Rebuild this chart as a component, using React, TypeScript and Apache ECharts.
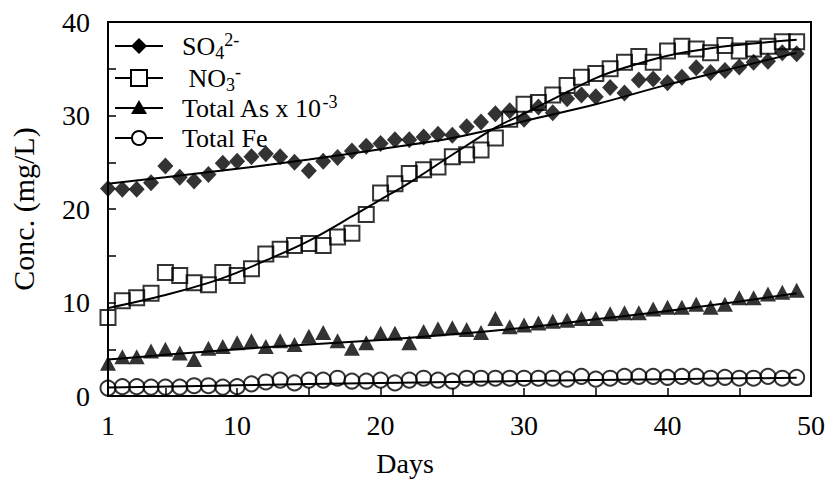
import React, { useEffect, useRef } from "react";
import * as echarts from "echarts";

const days = [1,2,3,4,5,6,7,8,9,10,11,12,13,14,15,16,17,18,19,20,21,22,23,24,25,26,27,28,29,30,31,32,33,34,35,36,37,38,39,40,41,42,43,44,45,46,47,48,49];

const so4 = [22.2,22.1,22.1,22.8,24.6,23.4,23.0,23.7,24.9,25.1,25.6,25.9,25.6,25.0,24.1,25.1,25.5,26.2,26.7,27.0,27.4,27.4,27.7,28.0,27.9,28.8,29.3,30.2,30.5,29.6,30.9,30.3,31.8,32.2,32.0,33.0,32.4,33.8,33.9,33.5,34.1,35.1,34.6,34.8,35.2,35.7,35.8,36.7,36.6];
const no3 = [8.4,10.2,10.5,11.0,13.2,12.9,12.1,11.9,13.2,12.9,13.6,15.2,15.7,16.1,16.3,16.1,17.0,17.4,19.4,21.7,22.7,23.8,24.2,24.5,25.6,25.8,26.3,27.6,29.6,31.2,31.4,32.2,33.2,34.1,34.5,35.0,35.7,36.3,35.7,36.9,37.4,37.1,36.7,37.5,36.9,37.1,37.4,37.9,37.9];
const asTot = [3.5,4.2,4.2,4.8,5.0,4.6,3.9,5.1,5.3,5.7,5.9,5.3,5.9,5.5,6.4,6.8,5.9,5.1,5.7,6.7,6.7,5.7,6.9,7.2,7.3,7.1,6.8,8.3,7.4,7.6,7.8,8.0,8.1,8.3,8.3,8.8,8.9,8.9,9.3,9.5,9.5,9.8,9.5,9.8,10.5,10.5,10.9,11.1,11.3];
const fe = [0.85,1.0,1.0,0.95,0.95,0.95,1.1,1.1,0.95,1.0,1.3,1.5,1.7,1.4,1.7,1.7,1.9,1.6,1.6,1.7,1.4,1.7,1.9,1.7,1.6,1.9,1.9,1.9,1.9,1.9,1.9,1.9,1.8,2.1,1.8,1.9,2.1,2.1,2.1,2.0,2.1,2.1,1.9,2.0,1.9,1.9,2.1,1.9,2.0];

// fitted trend curves
const so4FitDays = [1,5,10,15,20,25,28,30,35,40,45,49];
const so4Fit = [22.7,23.4,24.3,25.3,26.4,27.6,28.6,29.4,31.2,33.3,35.2,36.7];
const no3FitDays = [1,5,8,10,12,15,18,20,22,25,28,30,33,35,37,40,43,46,49];
const no3Fit = [9.4,10.8,12.1,13.2,14.5,16.6,19.2,21.0,22.8,25.8,28.7,30.2,32.5,34.0,35.1,36.4,37.2,37.7,38.1];
const asFitDays = [1,5,10,15,20,25,30,35,40,45,49];
const asFit = [3.9,4.4,5.0,5.5,6.0,6.6,7.3,8.2,9.1,10.1,11.0];
const feFitDays = [1,10,20,30,40,49];
const feFit = [0.9,1.15,1.4,1.6,1.8,1.95];

const xLabels = [1,10,20,30,40,50];
const xTicks = [5,10,15,20,25,30,35,40,45];
const yTicks = [5,10,15,20,25,30,35];

const FONT = "Liberation Serif";

const pairs = (xs: number[], ys: number[]) => xs.map((x, i) => [x, ys[i]]);

export default function App() {
  const ref = useRef<HTMLDivElement>(null);
  useEffect(() => {
    if (!ref.current) return;
    const chart = echarts.init(ref.current, undefined, { renderer: "svg" });
    const fitLine = (name: string, xs: number[], ys: number[]) => ({
      name,
      type: "line",
      data: pairs(xs, ys),
      smooth: 0.35,
      showSymbol: false,
      lineStyle: { color: "#000", width: 2 },
      z: 2,
      silent: true,
    });
    const rows = [46, 78, 108, 138];
    const lx0 = 115, lx1 = 163, sx = 139, tx = 182;
    const legendGraphics: any[] = [];
    rows.forEach((y) => {
      legendGraphics.push({ type: "line", shape: { x1: lx0, y1: y, x2: lx1, y2: y }, style: { stroke: "#000", lineWidth: 2 } });
    });
    legendGraphics.push({ type: "polygon", shape: { points: [[sx, rows[0] - 8], [sx + 8, rows[0]], [sx, rows[0] + 8], [sx - 8, rows[0]]] }, style: { fill: "#000" } });
    legendGraphics.push({ type: "rect", shape: { x: sx - 8, y: rows[1] - 8, width: 16, height: 16 }, style: { fill: "#fff", stroke: "#000", lineWidth: 2 } });
    legendGraphics.push({ type: "polygon", shape: { points: [[sx, rows[2] - 8], [sx + 8, rows[2] + 6], [sx - 8, rows[2] + 6]] }, style: { fill: "#000" } });
    legendGraphics.push({ type: "circle", shape: { cx: sx, cy: rows[3], r: 7 }, style: { fill: "#fff", stroke: "#000", lineWidth: 2 } });
    const rich = {
      n: { fontSize: 26, fontFamily: FONT, lineHeight: 31, fill: "#000" },
      sub: { fontSize: 18, fontFamily: FONT, lineHeight: 16, verticalAlign: "bottom", fill: "#000" },
      sup: { fontSize: 18, fontFamily: FONT, lineHeight: 16, verticalAlign: "top", fill: "#000" },
    };
    const texts = ["{n|SO}{sub|4}{sup|2-}", "{n| NO}{sub|3}{sup|-}", "{n|Total As x 10}{sup|-3}", "{n|Total Fe}"];
    texts.forEach((t, i) => {
      legendGraphics.push({
        type: "text",
        x: tx,
        y: rows[i],
        style: { text: t, rich, textVerticalAlign: "middle", textAlign: "left", fill: "#000", fontSize: 26, fontFamily: FONT },
      });
    });
    legendGraphics.push({
      type: "text",
      x: 405,
      y: 463,
      style: { text: "Days", fontSize: 28, fontFamily: FONT, fill: "#000", textAlign: "center", textVerticalAlign: "middle" },
    });

    chart.setOption({
      animation: false,
      grid: { left: 104, right: 18, top: 22, bottom: 84, show: true, borderColor: "#000", borderWidth: 2, backgroundColor: "transparent" },
      xAxis: {
        type: "value",
        min: 1,
        max: 50,
        axisLine: { show: true, lineStyle: { color: "#000", width: 2 } },
        axisTick: { show: true, inside: true, length: 8, customValues: xTicks, lineStyle: { color: "#000", width: 1.5 } },
        axisLabel: { customValues: xLabels, fontSize: 28, fontFamily: FONT, color: "#000", margin: 15 },
        splitLine: { show: false },
      },
      yAxis: {
        type: "value",
        min: 0,
        max: 40,
        interval: 10,
        name: "Conc. (mg/L)",
        nameLocation: "middle",
        nameGap: 70,
        nameTextStyle: { fontSize: 30, fontFamily: FONT, color: "#000" },
        axisLine: { show: true, lineStyle: { color: "#000", width: 2 } },
        axisTick: { show: true, inside: true, length: 8, customValues: yTicks, lineStyle: { color: "#000", width: 1.5 } },
        axisLabel: { fontSize: 28, fontFamily: FONT, color: "#000", margin: 18 },
        splitLine: { show: false },
      },
      graphic: legendGraphics,
      series: [
        fitLine("so4fit", so4FitDays, so4Fit),
        fitLine("no3fit", no3FitDays, no3Fit),
        fitLine("asfit", asFitDays, asFit),
        fitLine("fefit", feFitDays, feFit),
        { name: "SO4", type: "scatter", data: pairs(days, so4), symbol: "diamond", symbolSize: [16, 17], itemStyle: { color: "#000" }, z: 3 },
        { name: "NO3", type: "scatter", data: pairs(days, no3), symbol: "rect", symbolSize: 15, itemStyle: { color: "rgba(255,255,255,0)", borderColor: "#000", borderWidth: 2 }, z: 3 },
        { name: "As", type: "scatter", data: pairs(days, asTot), symbol: "triangle", symbolSize: [16, 15], itemStyle: { color: "#000" }, z: 3 },
        { name: "Fe", type: "scatter", data: pairs(days, fe), symbol: "circle", symbolSize: 15, itemStyle: { color: "rgba(255,255,255,0)", borderColor: "#000", borderWidth: 2 }, z: 3 },
      ],
    });
    return () => chart.dispose();
  }, []);
  return <div ref={ref} style={{ position: "fixed", left: 0, top: 0, width: 829, height: 480, background: "#fff" }} />;
}
